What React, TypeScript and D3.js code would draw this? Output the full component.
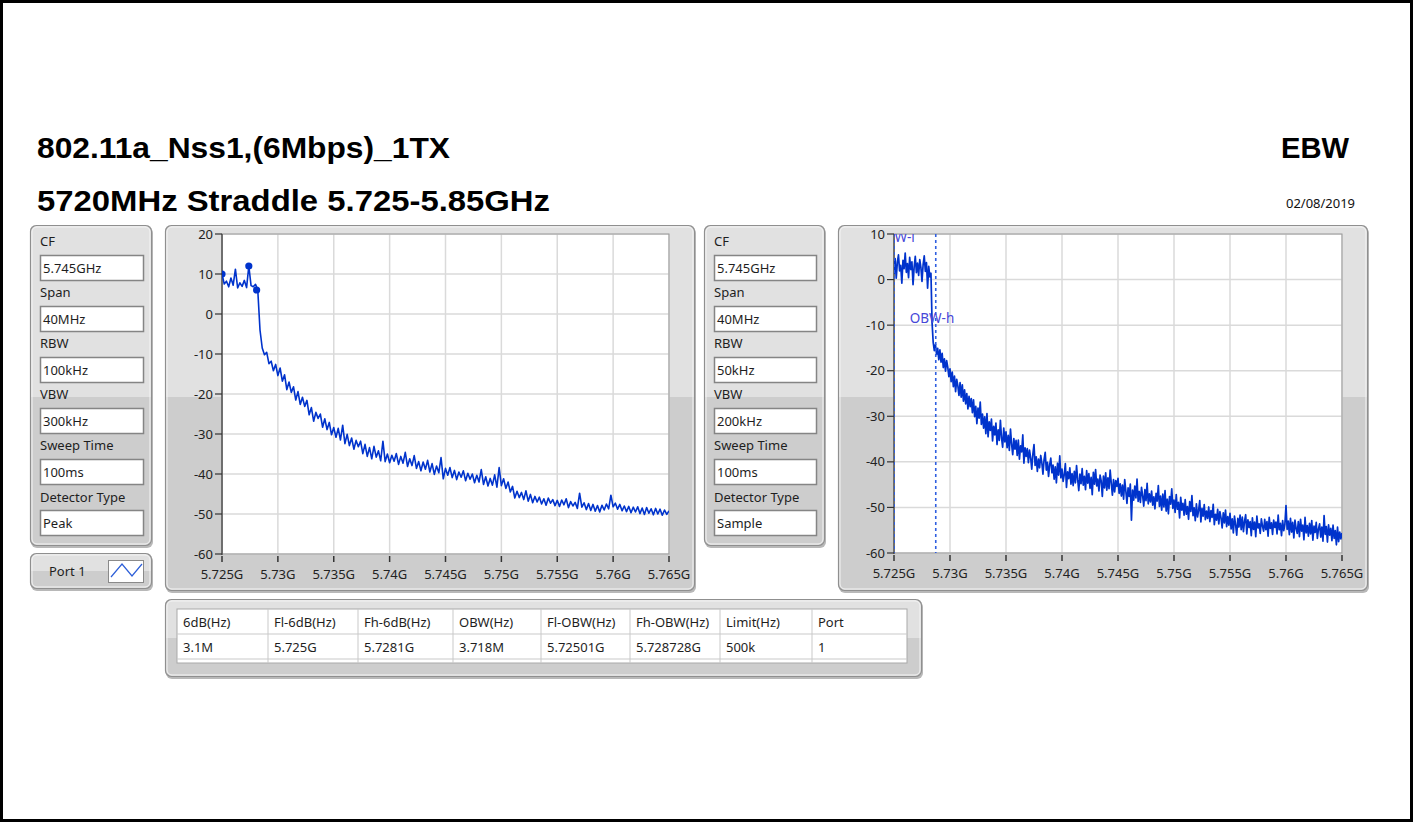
import React from "react";
import * as d3 from "d3";

// ---- Sweep settings -------------------------------------------------------
const START_GHZ = 5.725;
const STOP_GHZ = 5.765;

// X axis tick values (GHz) and their labels
const FREQ_TICKS = [5.725, 5.73, 5.735, 5.74, 5.745, 5.75, 5.755, 5.76, 5.765];
const FREQ_TICK_LABELS = ["5.725G", "5.73G", "5.735G", "5.74G", "5.745G", "5.75G", "5.755G", "5.76G", "5.765G"];

// Y axis ticks (dBm)
const LEFT_LEVEL_TICKS = [20, 10, 0, -10, -20, -30, -40, -50, -60];
const RIGHT_LEVEL_TICKS = [10, 0, -10, -20, -30, -40, -50, -60];

// Peak-detector trace, 201 sweep points, 0.2 MHz apart
const LEFT_TRACE_DB = [
  10, 7.5, 8.2, 6.8, 9, 7.2, 11.2, 6.5, 7.8, 6.9, 8.4, 6.6, 12, 7.1, 6.8, 7.4, 6,
  -4, -8.5, -10.2, -9.6, -12.4, -11.8, -14.2, -12.6, -15.4, -13.5, -16.8, -15.2, -18.9,
  -17, -19.6, -18.2, -21.5, -19.4, -22.6, -20.8, -23.1, -21.6, -25.2,
  -23.4, -26.8, -24.6, -26.1, -25, -28.3, -26.2, -28.9, -27.1, -30.2,
  -28.4, -30.8, -28.6, -31.5, -27.8, -32.4, -30.1, -32.9, -31, -33.8,
  -31.6, -33.2, -31.8, -34.9, -32.6, -35.6, -33.4, -36.2, -33.1, -35.8,
  -34.2, -36.7, -31.8, -36.9, -35, -37.2, -35.3, -36.8, -34.9, -37.6,
  -35.6, -37.3, -34.6, -38.1, -36.2, -37.9, -35.4, -38.6, -36.9, -39.2,
  -37, -38.8, -36.6, -39.5, -37.4, -40.1, -38, -39.7, -35.9, -41.2,
  -38.6, -40.3, -38.4, -40.9, -39.1, -41.4, -39.5, -40.8, -39.2, -41.7,
  -39.8, -41.3, -40, -42.2, -40.3, -42, -38.9, -42.6, -40.7, -43,
  -41.1, -42.8, -40.2, -43.3, -38.4, -42.9, -41.2, -43.6, -42, -44.5,
  -43.1, -46, -44.3, -45.9, -44.6, -46.4, -44.2, -46.8, -45.1, -47.2,
  -45.6, -47, -45.8, -47.5, -46.2, -47.8, -46, -47.3, -46.4, -47.9,
  -46.6, -48.1, -46.5, -47.7, -46.2, -48.4, -46.9, -48, -47.1, -48.6,
  -44.8, -48.3, -47.2, -48.9, -47.4, -49.1, -47.6, -49.3, -47.9, -49.5,
  -47.8, -49, -47.5, -48.7, -45.3, -48.2, -47.3, -48.8, -47.6, -49.2,
  -48, -49.4, -48.1, -49.7, -48.3, -49.5, -48.2, -49.9, -48.5, -50.1,
  -48.4, -49.8, -48.7, -50.2, -48.6, -50, -48.8, -50.3, -49, -50.1,
  -49.2,
];

// Markers on the peak trace: frequency (GHz) and level (dBm)
const LEFT_MARKER_GHZ = [5.725, 5.7274, 5.7281];
const LEFT_MARKER_DB = [10, 12, 6];

// Sample-detector trace, 401 sweep points, 0.1 MHz apart
const RIGHT_TRACE_DB = [
  1.2, 4.6, 0.3, 3.8, 5.4, 1.9, 3.1, -0.8, 4.2, 2.4,
  5.8, 1.6, 3.5, 0.4, 4.9, 2.2, 3.9, -1.1, 2.8, 5.1,
  1.5, 3.6, 0.9, 4.4, 2.7, -0.4, 3.3, 5.2, 1.8, 3.7,
  -1.9, 2.9, 0.6, 1.4, -9.5, -13.8, -15.6, -14.2, -16.4, -15.1,
  -17.6, -15.4, -18.1, -16.2, -19.3, -17.4, -20.1, -17.8, -19.2, -21.3,
  -19.6, -22.4, -20.3, -23.5, -21.2, -24.6, -21.9, -23.3, -25.4, -22.6,
  -25.8, -23.1, -26.7, -24.2, -27.3, -25, -28.4, -25.6, -27.9, -26.1,
  -29.2, -26.4, -30.1, -27.8, -31.6, -28.2, -30.4, -26.9, -31.8, -29.5,
  -32.6, -30.1, -33.8, -29.4, -34.5, -31.2, -33.1, -30.6, -35.4, -32.2,
  -34.1, -31.5, -36.2, -33, -35.3, -30.9, -34.7, -36.8, -32.6, -35.6,
  -33.4, -36.9, -34.2, -37.5, -32.8, -36.1, -38.4, -34.9, -37.2, -35.3,
  -38.6, -35.2, -39.4, -36.5, -37.8, -34.1, -40.3, -36.9, -38.8, -37.1,
  -40.2, -37.4, -39.1, -41.6, -38.3, -36.2, -40.8, -38.9, -42.1, -39.4,
  -41.3, -38.6, -40.2, -42.7, -39.5, -37.9, -41.8, -40.1, -43.2, -40.6,
  -39.2, -42.4, -40.7, -43.8, -41.1, -44.6, -40.3, -42.9, -38.7, -43.5,
  -41.6, -44.3, -42.8, -40.4, -45.6, -42.2, -43.7, -41.3, -44.9, -42.6,
  -45.2, -42.1, -44.6, -40.8, -43.9, -46.3, -42.7, -44.8, -41.5, -45.1,
  -43.2, -46.1, -41.9, -44.7, -42.6, -45.8, -43.4, -47.2, -42.3, -44.9,
  -41.7, -45.3, -43.8, -46.4, -42.9, -44.2, -47.6, -43.1, -45.7, -42.4,
  -46.2, -43.5, -45.9, -41.8, -44.7, -47.3, -43.9, -46.6, -44.1, -45.4,
  -43.6, -46.9, -44.8, -47.5, -45.1, -48.2, -43.9, -46.4, -49.1, -45.7,
  -47.6, -44.9, -52.8, -46.2, -48.4, -45.3, -47.9, -43.8, -48.7, -46.5,
  -48.9, -45.6, -47.4, -49.7, -46.1, -48.5, -44.7, -49.2, -47, -48.8,
  -46.4, -49.5, -47.7, -50.3, -46.9, -48.6, -45.2, -49.8, -47.5, -50.6,
  -47.1, -49.9, -46.3, -50.8, -48.2, -51.4, -47.6, -49.3, -45.9, -50.2,
  -48.4, -51.1, -47.2, -50.4, -48.9, -52.3, -47.8, -50.6, -49.1, -51.7,
  -48.3, -51.5, -49.8, -52.6, -48.7, -50.9, -47.4, -51.8, -50.1, -52.9,
  -49.2, -52.1, -50.6, -48.5, -53.2, -50.2, -51.9, -49.4, -52.7, -50.8,
  -52.4, -49.9, -53.1, -50.7, -52.2, -49.3, -53.8, -51.5, -52.8, -50.4,
  -53.6, -50.9, -52.3, -54.5, -51.2, -53.4, -50.6, -54.2, -52, -53.9,
  -51.3, -54.7, -52.5, -55.6, -51.9, -53.8, -56.1, -52.4, -54.3, -51.7,
  -54.9, -52.1, -55.3, -53, -51.6, -55.8, -52.7, -54.4, -53.1, -56.2,
  -52.3, -54.8, -53.2, -56.4, -51.9, -54.5, -53.6, -55.7, -52.5, -54.1,
  -55.2, -52.6, -54.9, -53.1, -56.3, -52.2, -54.6, -53.4, -55.9, -52.8,
  -54.4, -53.2, -55.8, -51.7, -54.9, -53.5, -56.2, -52.9, -55.1, -53.7,
  -49.6, -54.8, -53, -56, -52.4, -55.4, -53.3, -56.7, -52.8, -54.6,
  -55.7, -53.1, -56.4, -52.6, -55.2, -53.9, -57.1, -52.2, -55.6, -54,
  -56.3, -53.5, -55.8, -52.9, -57.2, -54.1, -55.5, -53.3, -56.8, -54.7,
  -53.6, -56.5, -54.3, -57.4, -51.8, -55.9, -54.2, -57.6, -53.8, -56.1,
  -54.6, -57.3, -53.9, -56.8, -55.1, -58.2, -54.3, -57.5, -55.4, -56.9,
  -55.6,
];

// Occupied bandwidth edges (GHz)
const OBW_GHZ = [5.72501, 5.728728];
const OBW_LABELS = ["OBW-l", "OBW-h"];

// Analyzer settings panels
const SETTING_NAMES = ["CF", "Span", "RBW", "VBW", "Sweep Time", "Detector Type"];
const PEAK_SETTINGS = ["5.745GHz", "40MHz", "100kHz", "300kHz", "100ms", "Peak"];
const SAMPLE_SETTINGS = ["5.745GHz", "40MHz", "50kHz", "200kHz", "100ms", "Sample"];

// Result table
const RESULT_HEADERS = ["6dB(Hz)", "Fl-6dB(Hz)", "Fh-6dB(Hz)", "OBW(Hz)", "Fl-OBW(Hz)", "Fh-OBW(Hz)", "Limit(Hz)", "Port"];
const RESULT_VALUES = ["3.1M", "5.725G", "5.7281G", "3.718M", "5.72501G", "5.728728G", "500k", "1"];

const UI_FONT = "'Segoe UI', 'Noto Sans', sans-serif";
const TITLE_FONT = "'Liberation Sans', Arial, sans-serif";
const TRACE_BLUE = "#0033cc";
const GLOSS_Y = 397;

function sweepFreqs(n: number): number[] {
  const step = (STOP_GHZ - START_GHZ) / (n - 1);
  return Array.from({ length: n }, (_, i) => START_GHZ + i * step);
}

function Panel({ x, y, w, h, split }: { x: number; y: number; w: number; h: number; split?: number }) {
  const s = split ?? y + h / 2;
  const id = `pc-${x}-${y}`;
  return (
    <g>
      <defs>
        <clipPath id={id}>
          <rect x={x} y={y} width={w} height={h} rx={6} />
        </clipPath>
      </defs>
      <rect x={x + 1} y={y + 2} width={w} height={h} rx={6} fill="#b8b8b8" />
      <g clipPath={`url(#${id})`}>
        <rect x={x} y={y} width={w} height={h} fill="#cdcdcd" />
        <rect x={x} y={y} width={w} height={s - y} fill="#e1e1e1" />
      </g>
      <rect x={x + 0.5} y={y + 0.5} width={w - 1} height={h - 1} rx={6} fill="none" stroke="#8f8f8f" strokeWidth={1.2} />
      <rect x={x + 2} y={y + 2} width={w - 4} height={h - 4} rx={5} fill="none" stroke="#f4f4f4" strokeWidth={1} />
    </g>
  );
}

function SettingsPanel({ x, y, w, h, values }: { x: number; y: number; w: number; h: number; values: string[] }) {
  return (
    <g>
      <Panel x={x} y={y} w={w} h={h} split={GLOSS_Y} />
      {SETTING_NAMES.map((name, i) => {
        const ly = 241 + 51.2 * i;
        const by = 255 + 51 * i;
        return (
          <g key={name}>
            <text x={x + 10} y={ly} dy="0.35em" fontFamily={UI_FONT} fontSize={13} fill="#1e1e1e">
              {name}
            </text>
            <rect x={x + 10.5} y={by + 0.5} width={w - 19} height={25} fill="#ffffff" stroke="#858585" strokeWidth={1.5} />
            <text x={x + 13} y={by + 13} dy="0.35em" fontFamily={UI_FONT} fontSize={13} fill="#1e1e1e">
              {values[i]}
            </text>
          </g>
        );
      })}
    </g>
  );
}

type ChartProps = {
  panel: { x: number; y: number; w: number; h: number };
  plot: { left: number; right: number; top: number; bottom: number };
  levelDomain: [number, number];
  levelTicks: number[];
  trace: number[];
  traceWidth: number;
  markers?: { f: number[]; db: number[] };
  obw?: boolean;
  id: string;
};

function SpectrumChart({ panel, plot, levelDomain, levelTicks, trace, traceWidth, markers, obw, id }: ChartProps) {
  const x = d3.scaleLinear().domain([START_GHZ, STOP_GHZ]).range([plot.left, plot.right]);
  const y = d3.scaleLinear().domain(levelDomain).range([plot.bottom, plot.top]);
  const freqs = sweepFreqs(trace.length);
  const line = d3
    .line<number>()
    .x((_, i) => x(freqs[i]))
    .y((d) => y(d));
  const clipId = `clip-${id}`;
  return (
    <g>
      <Panel x={panel.x} y={panel.y} w={panel.w} h={panel.h} split={GLOSS_Y} />
      <defs>
        <clipPath id={clipId}>
          <rect x={plot.left} y={plot.top} width={plot.right - plot.left} height={plot.bottom - plot.top} />
        </clipPath>
      </defs>
      <rect x={plot.left} y={plot.top} width={plot.right - plot.left} height={plot.bottom - plot.top} fill="#ffffff" />
      {/* grid */}
      {FREQ_TICKS.map((f) => (
        <line key={`gx${f}`} x1={x(f)} x2={x(f)} y1={plot.top} y2={plot.bottom} stroke="#dadada" strokeWidth={1.5} />
      ))}
      {levelTicks.map((v) => (
        <line key={`gy${v}`} x1={plot.left} x2={plot.right} y1={y(v)} y2={y(v)} stroke="#dadada" strokeWidth={1.5} />
      ))}
      <rect
        x={plot.left}
        y={plot.top}
        width={plot.right - plot.left}
        height={plot.bottom - plot.top}
        fill="none"
        stroke="#9a9a9a"
        strokeWidth={1}
      />
      <line x1={plot.left} x2={plot.left} y1={plot.top} y2={plot.bottom + 1} stroke="#555" strokeWidth={1.5} />
      {/* y axis */}
      {levelTicks.map((v) => (
        <g key={`ty${v}`}>
          <line x1={plot.left - 7} x2={plot.left} y1={y(v)} y2={y(v)} stroke="#333" strokeWidth={1.2} />
          <text
            x={plot.left - 9}
            y={y(v)}
            dy="0.35em"
            textAnchor="end"
            fontFamily={UI_FONT}
            fontSize={13}
            fill="#222"
          >
            {v}
          </text>
        </g>
      ))}
      {/* x axis */}
      {FREQ_TICKS.map((f, i) => (
        <g key={`tx${f}`}>
          <line x1={x(f)} x2={x(f)} y1={plot.bottom + 2} y2={plot.bottom + 8} stroke="#333" strokeWidth={1.5} />
          <text
            x={x(f)}
            y={plot.bottom + 20}
            dy="0.35em"
            textAnchor="middle"
            fontFamily={UI_FONT}
            fontSize={13}
            fill="#222"
          >
            {FREQ_TICK_LABELS[i]}
          </text>
        </g>
      ))}
      <g clipPath={`url(#${clipId})`}>
        <path d={line(trace) ?? ""} fill="none" stroke={TRACE_BLUE} strokeWidth={traceWidth} strokeLinejoin="round" />
        {markers &&
          markers.f.map((f, i) => <circle key={`m${i}`} cx={x(f)} cy={y(markers.db[i])} r={3.6} fill={TRACE_BLUE} />)}
        {obw &&
          OBW_GHZ.map((f, i) => (
            <line
              key={`obw${i}`}
              x1={x(f)}
              x2={x(f)}
              y1={plot.top}
              y2={plot.bottom}
              stroke="#2f5fe0"
              strokeWidth={1.6}
              strokeDasharray="3 3"
            />
          ))}
      </g>
      {obw && (
        <svg x={plot.left} y={plot.top} width={plot.right - plot.left} height={plot.bottom - plot.top} overflow="hidden">
          <g fontFamily={UI_FONT} fontSize={13.5} fill="#4646d8">
            <text x={x(OBW_GHZ[0]) - 19 - plot.left} y={3} dy="0.35em">
              {OBW_LABELS[0]}
            </text>
            <text x={x(OBW_GHZ[1]) - 26 - plot.left} y={y(-8.4) - plot.top} dy="0.35em">
              {OBW_LABELS[1]}
            </text>
          </g>
        </svg>
      )}
    </g>
  );
}

function ResultTable() {
  const left = 177;
  const right = 907;
  const top = 609;
  const cols = [177, 268, 358, 453, 541, 630, 720, 812];
  const rowH = 25;
  return (
    <g>
      <Panel x={165} y={599} w={757} h={78} />
      <rect x={left} y={top} width={right - left} height={54} fill="#ffffff" stroke="#a9a9a9" strokeWidth={1} />
      {cols.slice(1).map((c) => (
        <line key={c} x1={c} x2={c} y1={top} y2={top + 54} stroke="#c9c9c9" strokeWidth={1} />
      ))}
      <line x1={left} x2={right} y1={top + rowH} y2={top + rowH} stroke="#c9c9c9" strokeWidth={1} />
      <line x1={left} x2={right} y1={top + 2 * rowH} y2={top + 2 * rowH} stroke="#c9c9c9" strokeWidth={1} />
      {RESULT_HEADERS.map((h, i) => (
        <text key={h} x={cols[i] + 6} y={top + 13} dy="0.35em" fontFamily={UI_FONT} fontSize={13} fill="#1e1e1e">
          {h}
        </text>
      ))}
      {RESULT_VALUES.map((v, i) => (
        <text
          key={`v${i}`}
          x={cols[i] + 6}
          y={top + rowH + 13}
          dy="0.35em"
          fontFamily={UI_FONT}
          fontSize={13}
          fill="#1e1e1e"
        >
          {v}
        </text>
      ))}
    </g>
  );
}

function PortLegend() {
  return (
    <g>
      <Panel x={30} y={553} w={122} h={36} />
      <text x={49} y={571} dy="0.35em" fontFamily={UI_FONT} fontSize={13} fill="#1e1e1e">
        Port 1
      </text>
      <rect x={108.5} y={560.5} width={35} height={22} fill="#ffffff" stroke="#8a8a8a" strokeWidth={1} />
      <polyline points="111,577 122,564 132,576 142,564" fill="none" stroke="#2d5fd8" strokeWidth={1.2} />
    </g>
  );
}

export default function App() {
  return (
    <div style={{ position: "absolute", left: 0, top: 0 }}>
      <svg width={1415} height={822} style={{ display: "block" }}>
        <rect x={0} y={0} width={1415} height={822} fill="#ffffff" />
        <rect x={1.5} y={1.5} width={1410} height={819} fill="none" stroke="#000" strokeWidth={3} />

        <text
          x={37}
          y={158}
          fontFamily={TITLE_FONT}
          fontWeight="bold"
          fontSize={30}
          textLength={413}
          lengthAdjust="spacingAndGlyphs"
          fill="#000"
        >
          802.11a_Nss1,(6Mbps)_1TX
        </text>
        <text
          x={37}
          y={211}
          fontFamily={TITLE_FONT}
          fontWeight="bold"
          fontSize={30}
          textLength={513}
          lengthAdjust="spacingAndGlyphs"
          fill="#000"
        >
          5720MHz Straddle 5.725-5.85GHz
        </text>
        <text
          x={1281}
          y={158}
          fontFamily={TITLE_FONT}
          fontWeight="bold"
          fontSize={30}
          textLength={68}
          lengthAdjust="spacingAndGlyphs"
          fill="#000"
        >
          EBW
        </text>
        <text x={1286} y={208} fontFamily={UI_FONT} fontSize={12} textLength={69} lengthAdjust="spacingAndGlyphs" fill="#111">
          02/08/2019
        </text>

        <SettingsPanel x={30} y={225} w={122} h={321} values={PEAK_SETTINGS} />
        <PortLegend />
        <SpectrumChart
          id="peak"
          panel={{ x: 165, y: 225, w: 530, h: 366 }}
          plot={{ left: 222, right: 669, top: 234, bottom: 554 }}
          levelDomain={[-60, 20]}
          levelTicks={LEFT_LEVEL_TICKS}
          trace={LEFT_TRACE_DB}
          traceWidth={1.6}
          markers={{ f: LEFT_MARKER_GHZ, db: LEFT_MARKER_DB }}
        />
        <SettingsPanel x={704} y={225} w={121} h={321} values={SAMPLE_SETTINGS} />
        <SpectrumChart
          id="sample"
          panel={{ x: 838, y: 225, w: 530, h: 366 }}
          plot={{ left: 894, right: 1342, top: 234, bottom: 553 }}
          levelDomain={[-60, 10]}
          levelTicks={RIGHT_LEVEL_TICKS}
          trace={RIGHT_TRACE_DB}
          traceWidth={1.7}
          obw
        />
        <ResultTable />
      </svg>
    </div>
  );
}
